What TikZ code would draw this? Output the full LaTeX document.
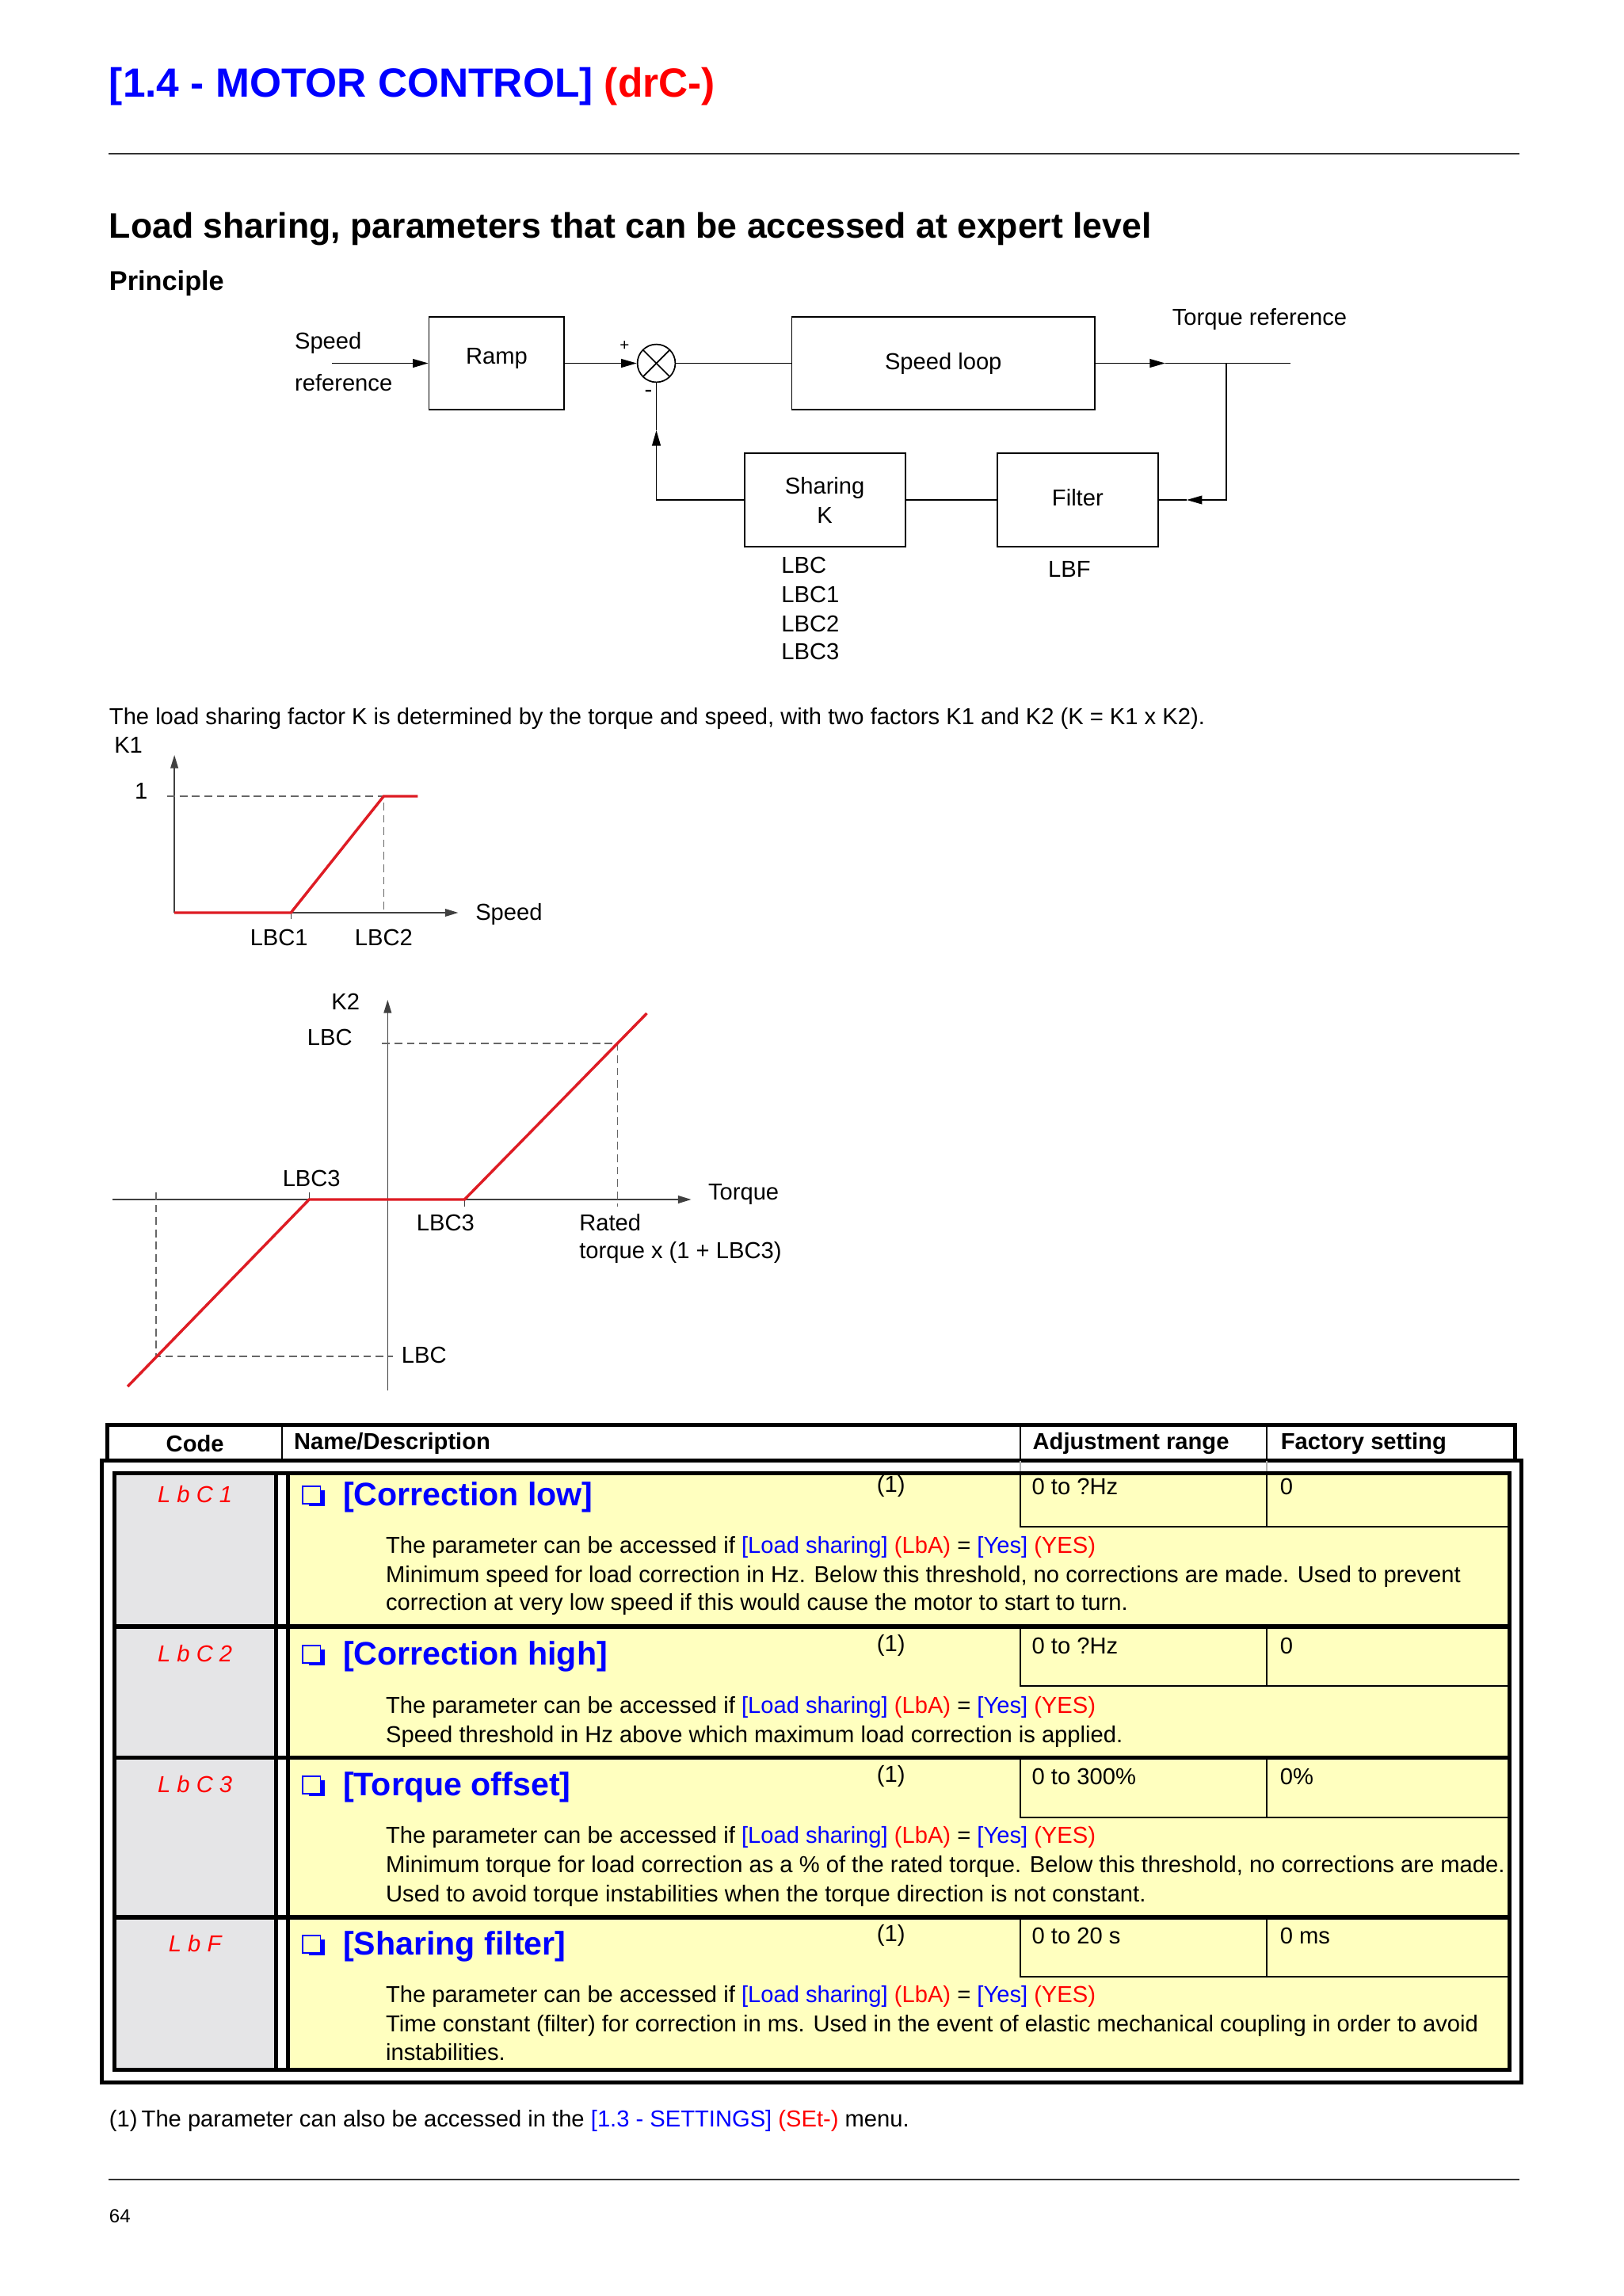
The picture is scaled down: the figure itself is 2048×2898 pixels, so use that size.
\documentclass[tikz,border=0pt]{standalone}
\usepackage{fontspec}
\setmainfont{Liberation Sans}
\usetikzlibrary{arrows.meta,positioning}
\definecolor{pblue}{RGB}{0,0,255}
\definecolor{pred}{RGB}{255,0,0}
\definecolor{cred}{RGB}{222,28,36}
\definecolor{cgrey}{RGB}{229,229,231}
\definecolor{cyel}{RGB}{255,255,191}
\newcommand{\bodyfont}{\fontsize{8.5pt}{10.8pt}\selectfont}
\newcommand{\access}{The parameter can be accessed if \textcolor{pblue}{[Load sharing]} \textcolor{pred}{(LbA)} = \textcolor{pblue}{[Yes]} \textcolor{pred}{(YES)}}

\begin{document}
\begin{tikzpicture}[x=0.10254mm,y=-0.10248mm,line width=0.5pt,>={Triangle[length=2mm,width=1.1mm]},
  box/.style={draw,inner sep=0pt,font=\bodyfont},
  lbl/.style={inner sep=0pt,font=\bodyfont},
  hd/.style={inner sep=0pt,font=\bodyfont\bfseries},
  ax/.style={draw=black!75,line width=0.4pt,-{Triangle[length=1.7mm,width=1mm]}},
  tick/.style={draw=black!75,line width=0.4pt},
  curve/.style={draw=cred,line width=1pt},
  guide/.style={draw=black!60,line width=0.4pt,dash pattern=on 1mm off 0.6mm},
  rule/.style={line width=1.5pt},
  codetxt/.style={inner sep=0pt,text=pred,font=\fontsize{8.5pt}{10pt}\selectfont\itshape},
  chk/.style={draw=pblue,fill=cyel,line width=0.5pt,minimum size=2.3mm,inner sep=0pt},
  pname/.style={inner sep=0pt,text=pblue,font=\fontsize{12pt}{14pt}\selectfont\bfseries}]
\useasboundingbox (0,0) rectangle (2048,2898);
\fill[white] (0,0) rectangle (2048,2898);

% page head
\node[anchor=base west,inner sep=0pt,font=\fontsize{15pt}{18pt}\selectfont\bfseries] (title) at (137,122) {\textcolor{pblue}{[1.4 - MOTOR CONTROL]} \textcolor{pred}{(drC-)}};
\draw[black!80,line width=0.6pt] (137,194) -- (1917,194);
\node[anchor=base west,inner sep=0pt,font=\fontsize{13pt}{16pt}\selectfont\bfseries] (head) at (137,300) {Load sharing, parameters that can be accessed at expert level};
\node[anchor=base west,inner sep=0pt,font=\fontsize{10pt}{12pt}\selectfont\bfseries] (princ) at (137,366) {Principle};

% block diagram
\node[box,minimum width=17.5mm,minimum height=12mm] (ramp) at (626.5,458.5) {\raisebox{1.8mm}{Ramp}};
\node[box,minimum width=39.2mm,minimum height=12mm] (loop) at (1190,458.5) {Speed loop};
\node[box,minimum width=20.8mm,minimum height=12.1mm,align=center] (share) at (1040.5,631) {Sharing\\K};
\node[box,minimum width=20.8mm,minimum height=12.1mm] (filt) at (1359.5,631) {\raisebox{0.6mm}{Filter}};
\node[draw,circle,minimum size=4.9mm,inner sep=0pt,path picture={\draw (path picture bounding box.north west) -- (path picture bounding box.south east) (path picture bounding box.north east) -- (path picture bounding box.south west);}] (sum) at (828,458.5) {};
\coordinate (in) at (419,458.5);
\coordinate (tq) at (1470,458.5);
\coordinate (br) at (1547,458.5);
\coordinate (out) at (1628,458.5);
\coordinate (fb) at (1497,631);
\coordinate (up) at (828,543);
\draw[->] (in) -- (ramp);
\draw[->] (ramp) -- (sum);
\draw (sum) -- (loop);
\draw[->] (loop) -- (tq);
\draw (tq) -- (out);
\draw[->] (br) |- (fb);
\draw (fb) -- (filt);
\draw (filt) -- (share);
\draw[->] (share) -| (up);
\draw (up) -- (sum);
\node[lbl,anchor=base west] (spd) at (371,440) {Speed};
\node[lbl,anchor=base west] (ref) at (371,493) {reference};
\node[lbl,font=\fontsize{6pt}{7pt}\selectfont] (plus) at (788,437) {+};
\node[lbl] (minus) at (818,497) {-};
\node[lbl,anchor=base west] (tqref) at (1478,410) {Torque reference};
\foreach \lab/\y in {LBC/713,LBC1/750,LBC2/787,LBC3/822}
  \node[lbl,anchor=west] (p\lab) at (985,\y) {\lab};
\node[lbl] (pLBF) at (1349,718) {LBF};

\node[lbl,anchor=west] (intro) at (137,907) {The load sharing factor K is determined by the torque and speed, with two factors K1 and K2 (K = K1 x K2).};

% K1 versus speed
\node[lbl] (k1) at (162,940) {K1};
\node[lbl] (one) at (178,998) {1};
\node[lbl] (speed) at (642,1154) {Speed};
\node[lbl] (lbc1) at (352,1183) {LBC1};
\node[lbl] (lbc2) at (484,1183) {LBC2};
\draw[ax] (220,1152) -- (220,953);
\draw[ax] (220,1152) -- (578,1152);
\draw[tick] (367,1152) -- (367,1160);
\draw[guide] (211,1005) -- (484,1005) -- (484,1152);
\draw[curve] (220,1152) -- (367,1152) -- (484,1005) -- (527,1005);

% K2 versus torque
\node[lbl] (k2) at (436,1264) {K2};
\node[lbl] (lbctop) at (416,1309) {LBC};
\node[lbl] (lbc3a) at (393,1487) {LBC3};
\node[lbl] (lbc3b) at (562,1543) {LBC3};
\node[lbl,anchor=west] (rated) at (730,1543) {Rated};
\node[lbl,anchor=west] (rtq) at (730,1581) {torque x (1 + LBC3)};
\node[lbl] (torque) at (938,1507) {Torque};
\node[lbl] (lbcbot) at (535,1710) {LBC};
\draw[ax] (489,1755) -- (489,1262);
\draw[ax] (142,1514) -- (872,1514);
\draw[tick] (390,1514) -- (390,1505);
\draw[tick] (586,1514) -- (586,1523);
\draw[guide] (482,1317) -- (779,1317) -- (779,1523);
\draw[guide] (197,1505) -- (197,1712) -- (496,1712);
\draw[curve] (161,1750) -- (390,1514) -- (586,1514) -- (816,1279);

% table
\draw[rule] (135.5,1798.5) rectangle (1911,1843.5);
\foreach \x in {356,1287,1598} \draw (\x,1798.5) -- (\x,1843.5);
\node[hd] (hcode) at (246,1822) {Code};
\node[hd,anchor=west] (hname) at (370,1822) {Name/Description};
\node[hd,anchor=west] (hrange) at (1302,1822) {Adjustment range};
\node[hd,anchor=west] (hfact) at (1615,1822) {Factory setting};
\draw[rule] (128.5,1843.5) rectangle (1919.5,2628.5);
\foreach \x in {1287,1598} \draw[black!30,line width=0.4pt] (\x,1843.5) -- (\x,1859.5);
\fill[cgrey] (144.5,1859.5) rectangle (348.5,2612.5);
\fill[cyel] (363.5,1859.5) rectangle (1904.5,2612.5);
\draw[rule] (144.5,1859.5) rectangle (1904.5,2612.5);
\draw[rule] (348.5,1859.5) -- (348.5,2612.5);
\draw[rule] (363.5,1859.5) -- (363.5,2612.5);
\foreach \y in {2053,2218.5,2420} \draw[rule] (144.5,\y) -- (1904.5,\y);
\foreach \top/\bot in {1859.5/1927,2053/2128,2218.5/2294,2420/2495} {
  \draw (1287,\top) -- (1287,\bot) -- (1904.5,\bot);
  \draw (1598,\top) -- (1598,\bot);
}
\foreach \m/\cd/\nm/\rg/\fc [count=\i] in {1886/L b C 1/Correction low/0 to ?Hz/0, 2087/L b C 2/Correction high/0 to ?Hz/0, 2252/L b C 3/Torque offset/0 to 300\%/0\%, 2453/L b F/Sharing filter/0 to 20 s/0 ms} {
  \node[codetxt] (code\i) at (246,\m) {\cd};
  \fill[pblue] (390,\m-5) rectangle (410,\m+15);
  \node[chk] (box\i) at (393,\m+1) {};
  \node[pname,anchor=west] (name\i) at (432,\m+4) {[\nm]};
  \node[lbl] (fn\i) at (1124,\m-10) {(1)};
  \node[lbl,anchor=west] (rng\i) at (1301,\m-10) {\rg};
  \node[lbl,anchor=west] (fac\i) at (1614,\m-10) {\fc};
}
\foreach \y/\s [count=\j] in {1960/{\access}, 1997/{Minimum speed for load correction in Hz. Below this threshold, no corrections are made. Used to prevent}, 2032/{correction at very low speed if this would cause the motor to start to turn.}, 2162/{\access}, 2199/{Speed threshold in Hz above which maximum load correction is applied.}, 2326/{\access}, 2363/{Minimum torque for load correction as a \% of the rated torque. Below this threshold, no corrections are made.}, 2400/{Used to avoid torque instabilities when the torque direction is not constant.}, 2527/{\access}, 2564/{Time constant (filter) for correction in ms. Used in the event of elastic mechanical coupling in order to avoid}, 2600/{instabilities.}}
  \node[lbl,anchor=base west] (d\j) at (486,\y) {\s};

% foot
\node[lbl,anchor=west] (note) at (137,2677) {(1)\hspace{1.5pt}The parameter can also be accessed in the \textcolor{pblue}{[1.3 - SETTINGS]} \textcolor{pred}{(SEt-)} menu.};
\draw[black!80,line width=0.6pt] (137,2751) -- (1917,2751);
\node[inner sep=0pt,anchor=west,font=\fontsize{7pt}{8pt}\selectfont] (page) at (137,2797) {64};
\end{tikzpicture}
\end{document}
